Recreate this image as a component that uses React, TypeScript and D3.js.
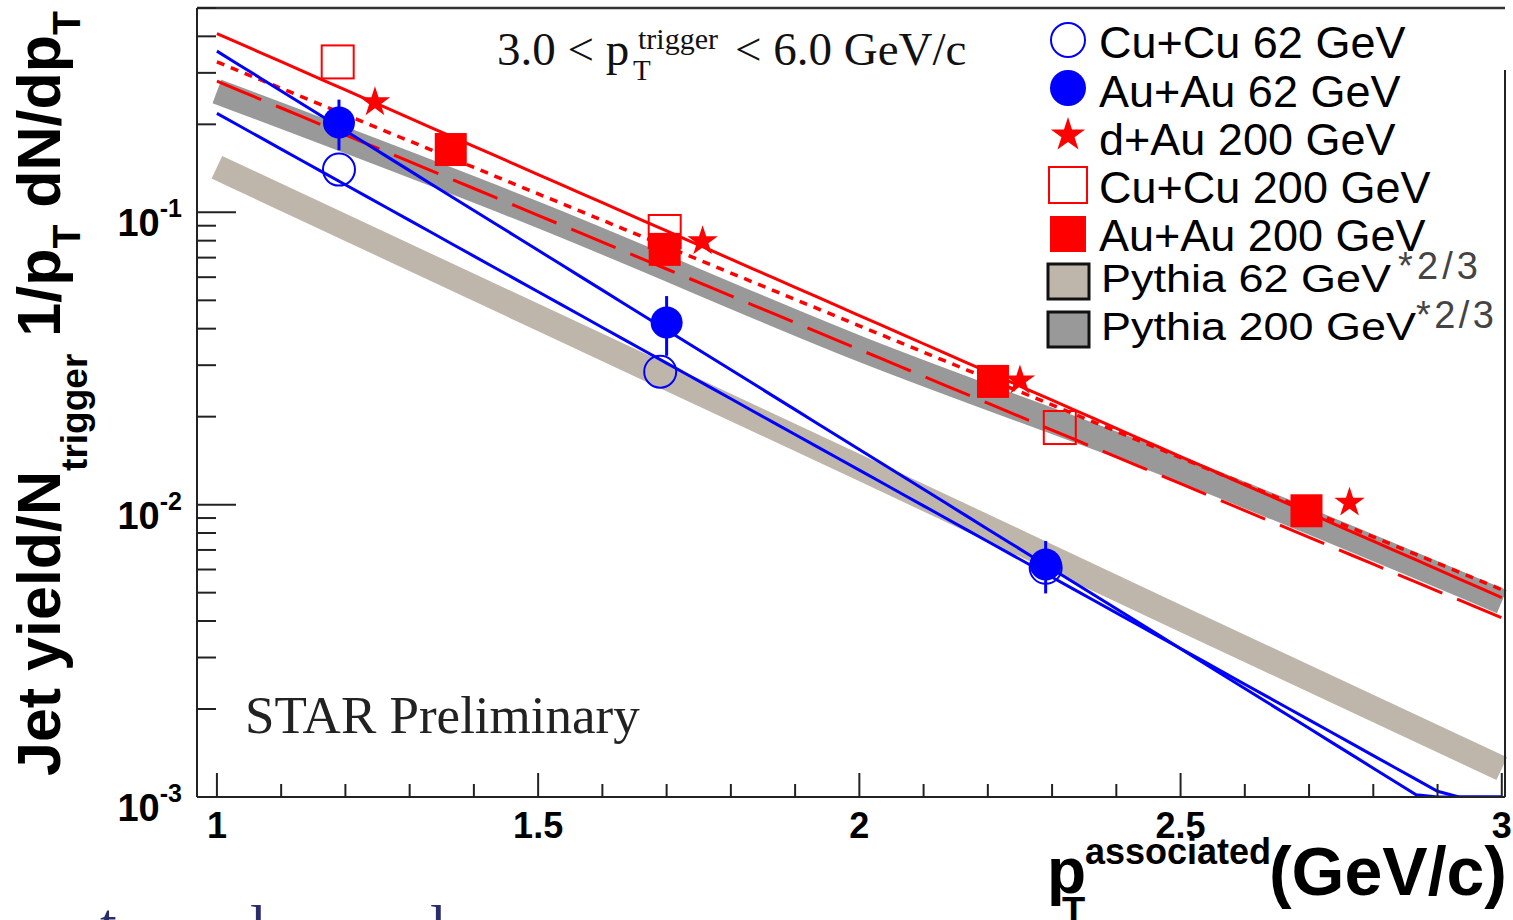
import React, { useEffect } from 'react';
import * as d3 from 'd3';

// ---------------- data ----------------
const cuCu62X = [1.19, 1.69, 2.29];
const cuCu62Y = [0.14, 0.0285, 0.00608];

const auAu62X = [1.19, 1.7, 2.29];
const auAu62Y = [0.203, 0.042, 0.00624];
const auAu62Err = [0.04, 0.0097, 0.00127];

const dAu200X = [1.246, 1.756, 2.25, 2.763];
const dAu200Y = [0.238, 0.0796, 0.0266, 0.01016];

const cuCu200X = [1.188, 1.697, 2.312];
const cuCu200Y = [0.327, 0.086, 0.01836];

const auAu200X = [1.364, 1.697, 2.208, 2.696];
const auAu200Y = [0.164, 0.0747, 0.0264, 0.00953];

const fitX = [1.0, 3.0];
const fitRedSolid = [0.409, 0.00481];
const fitRedDotted = [0.327, 0.00512];
const fitRedDashed = [0.281, 0.0041];
const fitBlueAuAu = [0.356, 0.00067];
const fitBlueCuCu = [0.218, 0.00079];

const pythiaX = [1.0, 1.5, 2.0, 2.5, 3.0];
const pythia62 = [0.1426, 0.0437, 0.0134, 0.00408, 0.00125];
const pythia200 = [0.259, 0.098, 0.0342, 0.0132, 0.00466];

const xMajorTicks = [1, 1.5, 2, 2.5, 3];
const xTickLabels = ['1', '1.5', '2', '2.5', '3'];
const yDecades = [1e-3, 1e-2, 1e-1];
const yDecadeExps = ['-3', '-2', '-1'];

const legendLabels = [
  'Cu+Cu 62 GeV',
  'Au+Au 62 GeV',
  'd+Au 200 GeV',
  'Cu+Cu 200 GeV',
  'Au+Au 200 GeV',
  'Pythia 62 GeV',
  'Pythia 200 GeV',
];
const pythiaScaleLabel = '*2/3';

// ---------------- layout ----------------
const W = 1513;
const H = 920;
const X0 = 197;
const X1 = 1505;
const Y0 = 8;
const Y1 = 797;
const YMIN = 1e-3;
const YMAX = 0.5;

const SANS = '"Liberation Sans", Arial, Helvetica, sans-serif';
const SERIF = '"Liberation Serif", "Times New Roman", serif';

const RED = '#ff0000';
const BLUE = '#0000ff';
const TAN = '#bfb6ab';
const GRAY = '#999999';

const xScale = d3.scaleLinear().domain([0.969, 3.005]).range([X0, X1]);
const yScale = d3.scaleLog().domain([YMIN, YMAX]).range([Y1, Y0]);

function densify(xs: number[], ys: number[], n = 60): [number, number][] {
  const out: [number, number][] = [];
  for (let i = 0; i < xs.length - 1; i++) {
    const la = Math.log10(ys[i]);
    const lb = Math.log10(ys[i + 1]);
    for (let k = 0; k < n; k++) {
      const t = k / n;
      out.push([xs[i] + (xs[i + 1] - xs[i]) * t, Math.pow(10, la + (lb - la) * t)]);
    }
  }
  out.push([xs[xs.length - 1], ys[ys.length - 1]]);
  return out;
}

const lineGen = d3
  .line<[number, number]>()
  .x((d) => xScale(d[0]))
  .y((d) => yScale(Math.min(YMAX, Math.max(YMIN, d[1]))));

const bandGen = d3
  .line<[number, number]>()
  .x((d) => xScale(d[0]))
  .y((d) => yScale(d[1]))
  .curve(d3.curveMonotoneX);

const starPath = (r: number) =>
  d3.symbol().type(d3.symbolStar).size((r * r) / 0.8908130915292852)() as string;

export default function App() {
  useEffect(() => {
    document.body.style.margin = '0';
  }, []);

  const xMinor = d3
    .range(10, 31)
    .map((i) => i / 10)
    .filter((v) => !xMajorTicks.some((m) => Math.abs(m - v) < 1e-9));
  const yMinor: number[] = [];
  yDecades.forEach((d) => {
    for (let m = 2; m <= 9; m++) if (m * d <= YMAX) yMinor.push(m * d);
  });

  const legendRowY = [40, 88, 135, 185, 234, 281, 329];
  const legendTextY = [58, 107, 155, 203, 251, 292, 340];
  const LX = 1068;

  return (
    <div style={{ position: 'absolute', left: 0, top: 0 }}>
      <svg width={W} height={H} style={{ display: 'block', background: '#fff' }}>
        <defs>
          <clipPath id="plotClip">
            <rect x={X0} y={Y0} width={X1 - X0} height={Y1 - Y0} />
          </clipPath>
        </defs>
        <rect x={0} y={0} width={W} height={H} fill="#fff" />

        {/* Pythia bands */}
        <path
          d={bandGen(pythiaX.map((x, i) => [x, pythia62[i]] as [number, number])) as string}
          fill="none"
          stroke={TAN}
          strokeWidth={25}
        />
        <path
          d={bandGen(pythiaX.map((x, i) => [x, pythia200[i]] as [number, number])) as string}
          fill="none"
          stroke={GRAY}
          strokeWidth={25}
        />

        {/* fits */}
        <g clipPath="url(#plotClip)" fill="none">
          <path d={lineGen(densify(fitX, fitRedDashed)) as string} stroke={RED} strokeWidth={3} strokeDasharray="48,16" />
          <path d={lineGen(densify(fitX, fitRedDotted)) as string} stroke={RED} strokeWidth={3.5} strokeDasharray="8,7" />
          <path d={lineGen(densify(fitX, fitRedSolid)) as string} stroke={RED} strokeWidth={3} />
          <path d={lineGen(densify(fitX, fitBlueCuCu)) as string} stroke={BLUE} strokeWidth={3} />
          <path d={lineGen(densify(fitX, fitBlueAuAu)) as string} stroke={BLUE} strokeWidth={3} />
        </g>

        {/* error bars Au+Au 62 */}
        {auAu62X.map((x, i) => (
          <line
            key={'e' + i}
            x1={xScale(x)}
            x2={xScale(x)}
            y1={yScale(auAu62Y[i] + auAu62Err[i])}
            y2={yScale(auAu62Y[i] - auAu62Err[i])}
            stroke={BLUE}
            strokeWidth={3}
          />
        ))}

        {/* markers */}
        {cuCu62X.map((x, i) => (
          <circle key={'cc62' + i} cx={xScale(x)} cy={yScale(cuCu62Y[i])} r={16} fill="none" stroke={BLUE} strokeWidth={2} />
        ))}
        {auAu62X.map((x, i) => (
          <circle key={'aa62' + i} cx={xScale(x)} cy={yScale(auAu62Y[i])} r={16} fill={BLUE} />
        ))}
        {cuCu200X.map((x, i) => (
          <rect
            key={'cc200' + i}
            x={xScale(x) - 16}
            y={yScale(cuCu200Y[i]) - 16.5}
            width={32}
            height={33}
            fill="none"
            stroke={RED}
            strokeWidth={2}
          />
        ))}
        {auAu200X.map((x, i) => (
          <rect key={'aa200' + i} x={xScale(x) - 16} y={yScale(auAu200Y[i]) - 16.5} width={32} height={33} fill={RED} />
        ))}
        {dAu200X.map((x, i) => (
          <path
            key={'da' + i}
            d={starPath(16)}
            transform={`translate(${xScale(x)},${yScale(dAu200Y[i])})`}
            fill={RED}
          />
        ))}

        {/* frame */}
        <line x1={X0} x2={X1} y1={Y0} y2={Y0} stroke="#333" strokeWidth={2.5} />
        <line x1={X0} x2={X0} y1={Y0} y2={Y1} stroke="#222" strokeWidth={2} />
        <line x1={X0} x2={X1} y1={Y1} y2={Y1} stroke="#222" strokeWidth={2} />
        <line x1={X1} x2={X1} y1={70} y2={Y1} stroke="#222" strokeWidth={2} />

        {/* y ticks */}
        {yDecades.map((d) => (
          <line key={'ym' + d} x1={X0} x2={X0 + 39} y1={yScale(d)} y2={yScale(d)} stroke="#222" strokeWidth={2} />
        ))}
        {yMinor.map((d) => (
          <line key={'yn' + d} x1={X0} x2={X0 + 19} y1={yScale(d)} y2={yScale(d)} stroke="#222" strokeWidth={2} />
        ))}
        {yDecades.map((d, i) => (
          <text
            key={'yl' + d}
            x={182}
            y={yScale(d) + 24}
            textAnchor="end"
            fontFamily={SANS}
            fontWeight="bold"
            fontSize={38}
            fill="#000"
          >
            10
            <tspan fontSize={25} dy={-19}>
              {yDecadeExps[i]}
            </tspan>
          </text>
        ))}

        {/* x ticks */}
        {xMajorTicks.map((v) => (
          <line key={'xm' + v} x1={xScale(v)} x2={xScale(v)} y1={Y1} y2={Y1 - 24} stroke="#222" strokeWidth={2} />
        ))}
        {xMinor.map((v) => (
          <line key={'xn' + v} x1={xScale(v)} x2={xScale(v)} y1={Y1} y2={Y1 - 13} stroke="#222" strokeWidth={2} />
        ))}
        {xMajorTicks.map((v, i) => (
          <text
            key={'xl' + v}
            x={xScale(v)}
            y={838}
            textAnchor="middle"
            fontFamily={SANS}
            fontWeight="bold"
            fontSize={36}
            fill="#000"
          >
            {xTickLabels[i]}
          </text>
        ))}

        {/* x axis title */}
        <g fontFamily={SANS} fontWeight="bold" fill="#000">
          <text x={1047} y={893} fontSize={64}>p</text>
          <text x={1062} y={924} fontSize={38}>T</text>
          <text x={1085} y={864} fontSize={36}>associated</text>
          <text x={1507} y={895} fontSize={68} textAnchor="end">(GeV/c)</text>
        </g>

        {/* y axis title */}
        <text transform="translate(60,776) rotate(-90)" fontFamily={SANS} fontWeight="bold" fontSize={61} fill="#000">
          Jet yield/N
          <tspan fontSize={37} dy={27}>trigger</tspan>
          <tspan dy={-27}> 1/p</tspan>
          <tspan fontSize={39} dy={20}>T</tspan>
          <tspan dy={-20}> dN/dp</tspan>
          <tspan fontSize={39} dy={20}>T</tspan>
        </text>

        {/* title */}
        <g fontFamily={SERIF} fill="#111">
          <text x={497} y={65} fontSize={47}>3.0 &lt; p</text>
          <text x={633} y={80} fontSize={29}>T</text>
          <text x={638} y={49} fontSize={30}>trigger</text>
          <text x={735} y={65} fontSize={47}>&lt; 6.0 GeV/c</text>
        </g>

        {/* STAR Preliminary */}
        <text x={245} y={733} fontFamily={SERIF} fontSize={53} fill="#222">
          STAR Preliminary
        </text>

        {/* legend */}
        <g>
          <circle cx={LX} cy={legendRowY[0]} r={17} fill="none" stroke={BLUE} strokeWidth={2} />
          <circle cx={LX} cy={legendRowY[1]} r={18} fill={BLUE} />
          <path d={starPath(18)} transform={`translate(${LX},${legendRowY[2]})`} fill={RED} />
          <rect x={LX - 19} y={legendRowY[3] - 18} width={38} height={36} fill="none" stroke={RED} strokeWidth={2} />
          <rect x={LX - 18} y={legendRowY[4] - 18} width={36} height={36} fill={RED} />
          <rect x={LX - 20} y={legendRowY[5] - 17} width={41} height={35} fill={TAN} stroke="#111" strokeWidth={3} />
          <rect x={LX - 20} y={legendRowY[6] - 17} width={41} height={35} fill={GRAY} stroke="#111" strokeWidth={3} />
          {legendLabels.map((t, i) =>
            i < 5 ? (
              <text key={'lg' + i} x={1099} y={legendTextY[i]} fontFamily={SANS} fontSize={45} fill="#000">
                {t}
              </text>
            ) : (
              <text
                key={'lg' + i}
                transform={`translate(1101,${legendTextY[i]}) scale(1,0.88)`}
                fontFamily={SANS}
                fontSize={45}
                fill="#000"
              >
                {t}
              </text>
            )
          )}
          <text x={1398} y={279} fontFamily={SANS} fontSize={38} fill="#444" textLength={80}>
            {pythiaScaleLabel}
          </text>
          <text x={1416} y={328} fontFamily={SANS} fontSize={38} fill="#444" textLength={78}>
            {pythiaScaleLabel}
          </text>
        </g>

        {/* cut-off text from the slide below */}
        <g fontFamily={SERIF} fontSize={60} fill="#2b2d6b">
          <text x={100} y={944}>t</text>
          <text x={250} y={946}>l</text>
          <text x={430} y={946}>l</text>
        </g>
      </svg>
    </div>
  );
}
